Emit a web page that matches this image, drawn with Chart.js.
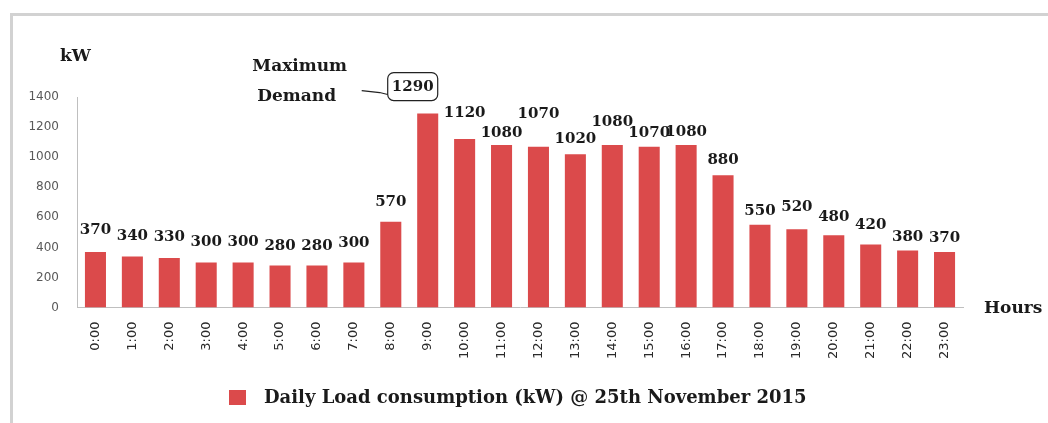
<!DOCTYPE html>
<html>
<head>
<meta charset="utf-8">
<script src="https://cdn.jsdelivr.net/npm/chart.js@4.4.0/dist/chart.umd.min.js"></script>
<style>
  body { margin: 0; background: #fff; }
  #frame { position: absolute; left: 10px; top: 13px; width: 1050px; height: 420px;
           border-top: 3px solid #d2d2d2; border-left: 3px solid #d2d2d2; }
  #wrap { position: absolute; left: 0; top: 0; width: 1048px; height: 423px; }
</style>
</head>
<body>
<div id="frame"></div>
<div id="wrap"><canvas id="data-chart"></canvas></div>
<script>
const hours = ['0:00','1:00','2:00','3:00','4:00','5:00','6:00','7:00','8:00','9:00','10:00','11:00',
  '12:00','13:00','14:00','15:00','16:00','17:00','18:00','19:00','20:00','21:00','22:00','23:00'];
const loadKw = [370, 340, 330, 300, 300, 280, 280, 300, 570, 1290, 1120, 1080,
  1070, 1020, 1080, 1070, 1080, 880, 550, 520, 480, 420, 380, 370];
const yTicks = [0, 200, 400, 600, 800, 1000, 1200, 1400];
const seriesName = 'Daily Load consumption (kW) @ 25th November 2015';

const serif = '"DejaVu Serif", "Liberation Serif", serif';
const sans = '"DejaVu Sans", Arial, sans-serif';
const barColor = '#db4a4b';

// gap (px) between bar top and the centre of its value label, hand-staggered like the original
const labelGap = [22, 20, 21, 20, 20, 19, 19, 19, 20, 0, 26, 12,
  33, 15, 23, 14, 13, 15, 14, 22, 18, 19, 13, 14];

// value labels, max demand callout, axis captions and the legend
const labelPlugin = {
  id: 'labels',
  afterDatasetsDraw(chart) {
    const ctx = chart.ctx;
    const bars = chart.getDatasetMeta(0).data;
    const maxIdx = loadKw.indexOf(Math.max(...loadKw));
    ctx.save();
    ctx.fillStyle = '#1a1a1a';
    ctx.font = 'bold 15px ' + serif;
    ctx.textAlign = 'center';
    ctx.textBaseline = 'middle';
    bars.forEach((bar, i) => {
      if (i === maxIdx) return;
      ctx.fillText(String(loadKw[i]), bar.x, bar.y - labelGap[i]);
    });

    // callout for the maximum
    const b = bars[maxIdx];
    const bx = b.x - 15, by = b.y - 27;
    const w = 50, h = 28, r = 6;
    ctx.strokeStyle = '#222';
    ctx.lineWidth = 1.2;
    ctx.beginPath();
    ctx.roundRect(bx - w / 2, by - h / 2, w, h, r);
    ctx.stroke();
    ctx.fillText(String(loadKw[maxIdx]), bx, by + 1);
    ctx.beginPath();
    ctx.moveTo(bx - w / 2 - 26, by + 4);
    ctx.lineTo(bx - w / 2 - 8, by + 6);
    ctx.lineTo(bx - w / 2, by + 8);
    ctx.stroke();
    ctx.font = 'bold 17px ' + serif;
    ctx.fillText('Maximum', bx - 113, by - 20);
    ctx.fillText('Demand', bx - 116, by + 10);

    ctx.textAlign = 'left';
    ctx.fillText('kW', 60, 57);
    ctx.fillText('Hours', 984, 309);

    // legend
    ctx.fillStyle = barColor;
    ctx.fillRect(229, 390, 17, 15);
    ctx.fillStyle = '#1a1a1a';
    ctx.font = 'bold 18px ' + serif;
    ctx.fillText(seriesName, 264, 398);
    ctx.restore();
  }
};

new Chart(document.getElementById('data-chart').getContext('2d'), {
  type: 'bar',
  data: {
    labels: hours,
    datasets: [{
      label: seriesName,
      data: loadKw,
      backgroundColor: barColor,
      borderWidth: 0,
      categoryPercentage: 1,
      barPercentage: 0.57
    }]
  },
  options: {
    responsive: true,
    maintainAspectRatio: false,
    animation: false,
    layout: { padding: { top: 97, right: 85, left: 0, bottom: 42 } },
    plugins: {
      legend: { display: false },
      tooltip: { enabled: false }
    },
    scales: {
      x: {
        grid: { display: false },
        border: { display: true, color: '#bfbfbf', width: 1 },
        afterFit(scale) { scale.height += 16; },
        ticks: {
          minRotation: 90, maxRotation: 90, padding: 6,
          color: '#2a2a2a',
          font: { family: sans, size: 13 }
        }
      },
      y: {
        min: 0, max: 1400,
        afterFit(scale) { scale.width = 77; },
        afterBuildTicks(scale) { scale.ticks = yTicks.map(v => ({ value: v })); },
        grid: { display: false },
        border: { display: true, color: '#bfbfbf', width: 1 },
        ticks: {
          padding: 10,
          color: '#595959',
          font: { family: sans, size: 12 },
          callback: v => String(v)
        }
      }
    }
  },
  plugins: [labelPlugin]
});
</script>
</body>
</html>
